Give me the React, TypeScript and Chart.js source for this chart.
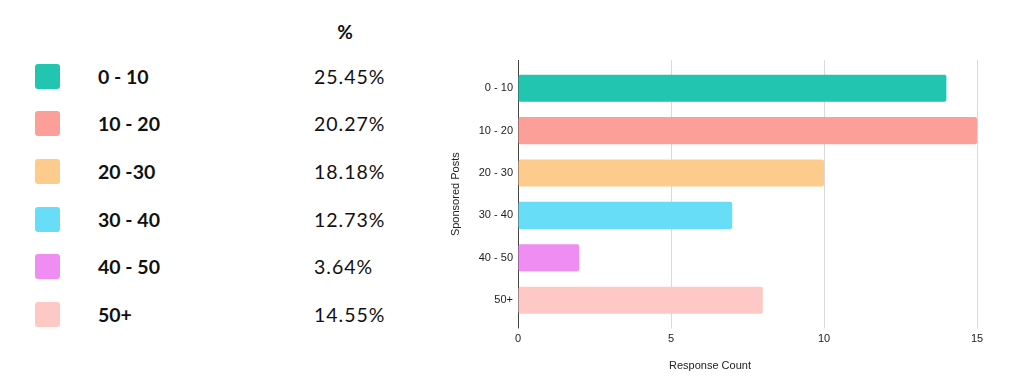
import { useEffect, useRef } from 'react';
import { Chart, registerables } from 'chart.js';

Chart.register(...registerables);

const tableLabels = ['0 - 10', '10 - 20', '20 -30', '30 - 40', '40 - 50', '50+'];
const percentages = ['25.45%', '20.27%', '18.18%', '12.73%', '3.64%', '14.55%'];
const chartLabels = ['0 - 10', '10 - 20', '20 - 30', '30 - 40', '40 - 50', '50+'];
const responseCounts = [14, 15, 10, 7, 2, 8];
const colors = ['#21C5B0', '#FB9F98', '#FDCB8B', '#68DDF8', '#F08DF3', '#FEC9C5'];
const xTickMax = 15;
const xTickStep = 5;
const yTitle = 'Sponsored Posts';
const xTitle = 'Response Count';
const headerText = '%';

const gridColor = '#d9d9d9';
const axisColor = '#444444';
const textColor = '#222222';
const chartFont = 'Arial, "Liberation Sans", Helvetica, sans-serif';
const tableFont = 'Lato, "Open Sans", sans-serif';

export default function App() {
  const ref = useRef<HTMLCanvasElement>(null);

  useEffect(() => {
    if (!ref.current) return;
    const extendGrid = {
      id: 'extendGrid',
      beforeDatasetsDraw(chart: any) {
        const { ctx, chartArea, scales } = chart;
        const x = scales.x;
        ctx.save();
        ctx.lineWidth = 1;
        x.ticks.forEach((t: any) => {
          const p = Math.round(x.getPixelForValue(t.value) - 0.5) + 0.5;
          ctx.strokeStyle = t.value === 0 ? axisColor : gridColor;
          ctx.beginPath();
          ctx.moveTo(p, chartArea.top - 7);
          ctx.lineTo(p, chartArea.top);
          ctx.stroke();
        });
        ctx.restore();
      },
    };

    const chart = new Chart(ref.current, {
      type: 'bar',
      data: {
        labels: chartLabels,
        datasets: [
          {
            data: responseCounts,
            backgroundColor: colors,
            borderRadius: 2,
            borderSkipped: false,
            barPercentage: 0.64,
            categoryPercentage: 1,
          },
        ],
      },
      options: {
        indexAxis: 'y',
        animation: false,
        responsive: false,
        devicePixelRatio: 1,
        layout: { padding: { top: 67, right: 26, left: 0, bottom: 0 } },
        plugins: {
          legend: { display: false },
          tooltip: { enabled: false },
          title: {
            display: true,
            text: xTitle,
            position: 'bottom',
            color: textColor,
            font: { family: chartFont, size: 11, weight: 'normal' },
            padding: { top: 4, bottom: 9 },
          },
        },
        scales: {
          x: {
            min: 0,
            max: xTickMax,
            ticks: {
              stepSize: xTickStep,
              color: textColor,
              padding: 4,
              font: { family: chartFont, size: 11 },
            },
            grid: {
              color: (c: any) => (c.tick && c.tick.value === 0 ? axisColor : gridColor),
              lineWidth: 1,
              drawTicks: true,
              tickLength: 7,
              tickColor: (c: any) => (c.tick && c.tick.value === 0 ? axisColor : gridColor),
            },
            border: { display: false },
            afterFit: (s: any) => {
              s.height = 34.4;
            },
          },
          y: {
            ticks: {
              color: textColor,
              padding: 5,
              font: { family: chartFont, size: 11 },
            },
            grid: { display: false, drawTicks: false },
            border: { display: false },
            title: {
              display: true,
              text: yTitle,
              color: textColor,
              font: { family: chartFont, size: 11, weight: 'normal' },
              padding: { top: 6.4, bottom: 4 },
            },
            afterFit: (s: any) => {
              s.width = 75;
            },
          },
        },
      },
      plugins: [extendGrid],
    } as any);
    return () => chart.destroy();
  }, []);

  const rowTop = 63.5;
  const rowGap = 47.7;

  return (
    <div
      style={{
        position: 'absolute',
        left: 0,
        top: 0,
        width: 1024,
        height: 382,
        background: '#ffffff',
        overflow: 'hidden',
      }}
    >
      <div
        style={{
          position: 'absolute',
          left: 320,
          width: 50,
          top: 19,
          height: 25,
          lineHeight: '25px',
          textAlign: 'center',
          fontFamily: tableFont,
          fontWeight: 700,
          fontSize: 19,
          color: '#111',
        }}
      >
        {headerText}
      </div>
      {tableLabels.map((lab, i) => {
        const top = rowTop + i * rowGap;
        return (
          <div key={lab}>
            <div
              style={{
                position: 'absolute',
                left: 35,
                top,
                width: 25,
                height: 25,
                borderRadius: 3,
                background: colors[i],
              }}
            />
            <div
              style={{
                position: 'absolute',
                left: 98,
                top,
                height: 25,
                lineHeight: '25px',
                fontFamily: tableFont,
                fontWeight: 700,
                fontSize: 19.5,
                color: '#111',
                whiteSpace: 'nowrap',
              }}
            >
              {lab}
            </div>
            <div
              style={{
                position: 'absolute',
                left: 314,
                top,
                height: 25,
                lineHeight: '25px',
                fontFamily: tableFont,
                fontWeight: 400,
                fontSize: 19.5,
                letterSpacing: '1px',
                color: '#111',
                whiteSpace: 'nowrap',
              }}
            >
              {percentages[i]}
            </div>
          </div>
        );
      })}
      <canvas
        ref={ref}
        width={560}
        height={382}
        style={{ position: 'absolute', left: 443, top: 0, width: 560, height: 382, display: 'block' }}
      />
    </div>
  );
}
